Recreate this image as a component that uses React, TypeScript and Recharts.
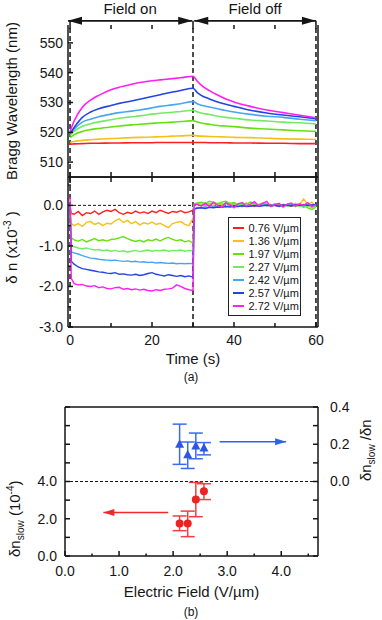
import React from 'react'
import {
  LineChart, Line, ScatterChart, Scatter, XAxis, YAxis,
  ReferenceLine, Legend, ErrorBar,
} from 'recharts'

const INK = '#151515'

const fieldLabels = ['0.76 V/µm', '1.36 V/µm', '1.97 V/µm', '2.27 V/µm', '2.42 V/µm', '2.57 V/µm', '2.72 V/µm']
const fieldColors = ['#ff1f1f', '#f2c218', '#66e00f', '#72ea62', '#46a6f5', '#2443e4', '#ff1ff0']

// (a) top: Bragg wavelength (nm) vs time (s)
const braggTime = [0, 1, 3, 5, 7, 10, 12, 15, 17, 20, 22, 25, 27, 30, 31, 32, 34, 36, 38, 40, 44, 48, 52, 56, 60]
const bragg076 = [516.0, 516.1, 516.2, 516.3, 516.3, 516.4, 516.4, 516.5, 516.5, 516.5, 516.6, 516.6, 516.6, 516.6, 516.6, 516.6, 516.5, 516.5, 516.5, 516.4, 516.4, 516.3, 516.3, 516.2, 516.2]
const bragg136 = [516.6, 516.9, 517.3, 517.5, 517.7, 517.9, 518.0, 518.2, 518.3, 518.4, 518.5, 518.7, 518.8, 519.0, 518.8, 518.7, 518.6, 518.5, 518.4, 518.3, 518.2, 518.0, 517.8, 517.7, 517.6]
const bragg197 = [518.2, 519.2, 520.3, 520.9, 521.3, 521.8, 522.1, 522.5, 522.7, 523.0, 523.2, 523.4, 523.6, 523.9, 523.5, 523.1, 522.7, 522.3, 522.1, 521.9, 521.4, 521.1, 520.8, 520.5, 520.3]
const bragg227 = [518.9, 520.3, 522.0, 522.9, 523.5, 524.2, 524.7, 525.2, 525.5, 526.1, 526.4, 526.7, 527.0, 527.4, 526.9, 526.5, 526.0, 525.4, 525.0, 524.7, 524.1, 523.8, 523.4, 523.2, 522.8]
const bragg242 = [519.4, 521.0, 523.4, 524.4, 525.2, 526.1, 526.6, 527.1, 527.5, 528.2, 528.7, 529.2, 529.6, 530.3, 529.6, 529.1, 528.5, 527.9, 527.3, 526.8, 526.0, 525.4, 525.0, 524.4, 523.9]
const bragg257 = [519.6, 521.6, 525.0, 526.8, 527.9, 529.0, 529.7, 530.5, 531.1, 532.0, 532.6, 533.5, 534.0, 534.8, 533.4, 532.4, 531.2, 530.2, 529.4, 528.7, 527.4, 526.5, 525.8, 525.2, 524.6]
const bragg272 = [520.3, 523.8, 528.4, 530.8, 532.4, 534.3, 535.1, 536.1, 536.7, 537.3, 537.6, 538.0, 538.3, 538.8, 537.2, 535.8, 534.0, 532.5, 531.2, 530.2, 528.7, 527.5, 526.6, 525.7, 524.9]
const braggSeries = [bragg076, bragg136, bragg197, bragg227, bragg242, bragg257, bragg272]
const braggTicks = [510, 520, 530, 540, 550]

// (a) bottom: delta n (x10^-3) vs time (s)
const dnTime = [0, 0.3, 1, 2, 3, 4, 5, 6, 7, 8, 9, 10, 11, 12, 13, 14, 15, 16, 17, 18, 19, 20, 21, 22, 23, 24, 25, 26, 27, 28, 29, 30, 30.3, 31, 32, 33, 34, 35, 36, 37, 38, 39, 40, 41, 42, 43, 44, 45, 46, 47, 48, 49, 50, 51, 52, 53, 54, 55, 56, 57, 58, 59, 60]
const dn076 = [
  0, -0.2,
  -0.22, -0.15, -0.25, -0.18, -0.2, -0.14, -0.22, -0.16, -0.12, -0.15,
  -0.1, -0.18, -0.22, -0.17, -0.2, -0.14, -0.19, -0.16, -0.2, -0.14,
  -0.18, -0.12, -0.16, -0.2, -0.15, -0.17, -0.13, -0.18, -0.16, -0.12,
  0.02,
  0.03, 0, 0.05, 0.02, -0.02, 0.04, 0.01, 0.06, 0, 0.03,
  -0.02, 0.02, 0.05, 0, -0.03, 0.02, 0.04, -0.01, 0.02, 0,
  -0.03, 0.02, 0.01, -0.02, 0.03, 0, -0.04, 0.02, 0, -0.02,
]
const dn136 = [
  0, -0.45,
  -0.5, -0.45, -0.52, -0.42, -0.4, -0.47, -0.43, -0.5, -0.44, -0.46,
  -0.38, -0.33, -0.42, -0.37, -0.45, -0.4, -0.48, -0.43, -0.46, -0.41,
  -0.47, -0.44, -0.5, -0.55, -0.45, -0.42, -0.4, -0.47, -0.5, -0.32,
  0,
  0.04, 0.02, -0.02, 0.03, 0, 0.05, 0.02, -0.03, 0.02, 0.06,
  0, -0.04, 0.03, 0, 0.04, -0.02, 0.02, 0.05, -0.01, 0.02,
  0, -0.04, 0.03, 0, 0.05, 0.02, 0.16, 0.02, 0.08, -0.03,
]
const dn197 = [
  0, -0.8,
  -0.85, -0.88, -0.84, -0.9, -0.86, -0.82, -0.87, -0.85, -0.88, -0.84,
  -0.83, -0.8, -0.77, -0.82, -0.86, -0.89, -0.86, -0.9, -0.85, -0.87,
  -0.83, -0.88, -0.82, -0.79, -0.84, -0.87, -0.85, -0.9, -0.87, -0.93,
  0.04,
  0.06, 0.08, 0.05, 0.1, 0.07, 0.04, 0.08, 0.1, 0.05, 0.07,
  0.02, 0.06, 0.03, 0.08, 0.04, 0.02, 0.06, 0.03, 0, 0.04,
  0.02, -0.02, 0.03, 0.01, -0.03, 0.02, 0, -0.06, -0.1, -0.04,
]
const dn227 = [
  0, -1.0,
  -1.02, -1.05, -1.07, -1.05, -1.08, -1.1, -1.09, -1.12, -1.1, -1.13,
  -1.11, -1.14, -1.12, -1.15, -1.13, -1.11, -1.14, -1.12, -1.1, -1.13,
  -1.11, -1.12, -1.1, -1.13, -1.11, -1.12, -1.1, -1.13, -1.11, -1.12,
  0.02,
  0.05, 0.03, 0.07, 0.04, 0.06, 0.02, 0.05, 0.03, 0.06, 0.02,
  0.04, 0.01, 0.03, 0, 0.02, -0.01, 0.02, 0, -0.02, 0.01,
  -0.03, 0, -0.02, 0.01, -0.03, -0.01, -0.04, -0.02, -0.05, -0.02,
]
const dn242 = [
  0, -1.15,
  -1.17, -1.2, -1.24, -1.27, -1.3, -1.31, -1.33, -1.34, -1.35, -1.36,
  -1.35, -1.37, -1.38, -1.37, -1.39, -1.38, -1.4, -1.39, -1.41, -1.4,
  -1.42, -1.41, -1.42, -1.43, -1.42, -1.44, -1.43, -1.44, -1.43, -1.44,
  -0.08,
  -0.05, -0.06, -0.04, -0.05, -0.03, -0.04, -0.02, -0.03, -0.01, -0.03,
  -0.02, 0, -0.02, -0.01, 0, -0.02, 0.01, -0.01, 0, 0.02,
  -0.01, 0.01, 0, 0.02, 0, 0.01, -0.01, 0.02, 0, 0.01,
]
const dn257 = [
  0, -1.38,
  -1.45, -1.52, -1.56, -1.58, -1.6, -1.62, -1.64, -1.65, -1.67, -1.68,
  -1.66, -1.7, -1.69, -1.71, -1.72, -1.7, -1.73, -1.71, -1.68, -1.66,
  -1.7, -1.72, -1.74, -1.71, -1.73, -1.75, -1.73, -1.76, -1.74, -1.77,
  -0.1,
  -0.07, -0.06, -0.08, -0.05, -0.06, -0.04, -0.05, -0.03, -0.04, -0.02,
  -0.03, -0.01, -0.03, -0.02, 0, -0.02, -0.01, 0.01, -0.01, 0,
  -0.02, 0.01, 0, -0.01, 0.01, 0, 0.02, 0, 0.01, 0.02,
]
const dn272 = [
  0.2, -1.8,
  -1.93, -1.96, -1.95, -1.99, -2.0, -1.98, -2.03, -2.01, -2.05, -2.06,
  -2.03, -2.02, -2.07, -2.05, -2.08, -2.06, -2.09, -2.07, -2.1, -2.11,
  -2.08, -2.1, -2.07, -2.06, -2.04, -1.96, -2.0, -2.05, -2.08, -2.1,
  0.02,
  0.03, -0.02, 0.05, -0.03, 0.08, 0, -0.05, 0.06, 0.02, -0.06,
  0.04, 0.07, -0.02, 0.03, 0.09, -0.01, 0.05, 0.1, -0.03, 0.02,
  0.05, -0.04, 0.03, 0.06, -0.02, 0.04, 0, 0.07, -0.03, 0.02,
]
const dnSeries = [dn076, dn136, dn197, dn227, dn242, dn257, dn272]
const dnTicks = [-3, -2.5, -2, -1.5, -1, -0.5, 0, 0.5]
const timeTicks = [0, 10, 20, 30, 40, 50, 60]

// (b): slow component vs electric field
const fieldB = [2.12, 2.27, 2.42, 2.57]
const dnSlow = [1.74, 1.74, 3.03, 3.47]
const dnSlowErr = [[0.38, 0.41], [0.7, 0.67], [0.92, 0.92], [0.44, 0.41]]
const slowRatio = [0.2, 0.143, 0.191, 0.18]
const slowRatioErr = [[0.108, 0.108], [0.073, 0.069], [0.069, 0.069], [0.037, 0.029]]
const efTicks = [0, 0.5, 1, 1.5, 2, 2.5, 3, 3.5, 4, 4.5]
const slowTicks = [0, 1, 2, 3, 4, 5, 6, 7, 8]
const ratioTicks = [-0.4, -0.3, -0.2, -0.1, 0, 0.1, 0.2, 0.3, 0.4]

const toRows = (time: number[], series: number[][]) =>
  time.map((t, i) => {
    const row: Record<string, number> = { t }
    series.forEach((s, k) => { row['s' + k] = s[i] })
    return row
  })
const braggRows = toRows(braggTime, braggSeries)
const dnRows = toRows(dnTime, dnSeries)
const slowRows = fieldB.map((x, i) => ({ x, y: dnSlow[i], err: dnSlowErr[i] }))
const ratioRows = fieldB.map((x, i) => ({ x, y: slowRatio[i], err: slowRatioErr[i] }))

const axisLine = { stroke: INK, strokeWidth: 1.5 }
const near = (a: number, b: number) => Math.abs(a - b) < 1e-6

// inward ticks, text outside
function tickFn(side: 'left' | 'right' | 'top' | 'bottom', gap: number, labelled: number[],
  fmt: ((v: number) => string) | null, len = 5, minor = 3) {
  return (p: any) => {
    const v = Number(p.payload.value)
    const major = labelled.some((m) => near(m, v))
    const L = major ? len : minor
    let ax = p.x, ay = p.y, lx = p.x, ly = p.y
    let anchor: any = 'middle', dy = '0.35em'
    if (side === 'left') { ax = p.x + gap; lx = ax + L; anchor = 'end' }
    if (side === 'right') { ax = p.x - gap; lx = ax - L; anchor = 'start' }
    if (side === 'bottom') { ay = p.y - gap; ly = ay - L; dy = '0.71em' }
    if (side === 'top') { ay = p.y + gap; ly = ay + L }
    return (
      <g>
        <line x1={ax} y1={ay} x2={lx} y2={ly} stroke={INK} strokeWidth={1.5} />
        {fmt && major && (
          <text x={p.x} y={p.y} dy={dy} textAnchor={anchor} fontSize={14} fill={INK}>{fmt(v)}</text>
        )}
      </g>
    )
  }
}

function arrowShape(color: string, both: boolean, headLen: number, headHalf: number, width: number, text?: string) {
  return (p: any) => {
    const { x1, y1, x2, y2 } = p
    const dir = x2 > x1 ? 1 : -1
    const head = (x: number, y: number, d: number) => (
      <polygon points={`${x},${y} ${x - d * headLen},${y - headHalf} ${x - d * headLen},${y + headHalf}`} fill={color} />
    )
    return (
      <g>
        <line x1={x1} y1={y1} x2={x2} y2={y2} stroke={color} strokeWidth={width} />
        {head(x2, y2, dir)}
        {both && head(x1, y1, -dir)}
        {text && <text x={(x1 + x2) / 2} y={y1 - 7} textAnchor="middle" fontSize={15} fill={INK}>{text}</text>}
      </g>
    )
  }
}

const vText = (x: number, y: number, body: React.ReactNode, size = 15) => (
  <text x={x} y={y} transform={`rotate(-90 ${x} ${y})`} textAnchor="middle" fontSize={size} fill={INK}>{body}</text>
)

function BraggPanel() {
  return (
    <LineChart width={382} height={179} data={braggRows} margin={{ top: 24, right: 0, bottom: 0, left: 0 }}>
      <XAxis xAxisId="top" orientation="top" type="number" dataKey="t" domain={[-0.5, 60.5]} ticks={timeTicks}
        interval={0} height={1} axisLine={false} tickLine={false} tickSize={0} tickMargin={0}
        tick={tickFn('top', 0, [], null, 4, 4)} />
      <XAxis xAxisId="b" type="number" dataKey="t" domain={[-0.5, 60.5]} ticks={timeTicks}
        interval={0} height={2} axisLine={axisLine} tickLine={false} tickSize={0} tickMargin={0}
        tick={tickFn('bottom', 0, [], null, 5, 5)} />
      <YAxis yAxisId="l" type="number" domain={[505, 556]} ticks={braggTicks} interval={0} width={68}
        axisLine={axisLine} tickLine={false} tickSize={0} tickMargin={5}
        tick={tickFn('left', 5, braggTicks, (v) => String(v), 5, 5)}
        label={{ content: (p: any) => vText(p.viewBox.x + 17, p.viewBox.y + p.viewBox.height / 2, 'Bragg Wavelength (nm)') }} />
      <YAxis yAxisId="r" orientation="right" type="number" domain={[505, 556]} ticks={braggTicks} interval={0}
        width={64} axisLine={axisLine} tickLine={false} tickSize={0} tickMargin={0}
        tick={tickFn('right', 0, [], null, 5, 5)} />
      {[0, 30, 60].map((x) => (
        <ReferenceLine key={x} xAxisId="b" yAxisId="l" ifOverflow="visible"
          segment={[{ x, y: 505 }, { x, y: 557.4 }]} stroke={INK} strokeWidth={1.5} strokeDasharray="5 3" />
      ))}
      <ReferenceLine xAxisId="b" yAxisId="l" ifOverflow="visible"
        segment={[{ x: -0.5, y: 557.4 }, { x: 29.8, y: 557.4 }]}
        shape={arrowShape(INK, true, 14, 4, 1.8, 'Field on')} />
      <ReferenceLine xAxisId="b" yAxisId="l" ifOverflow="visible"
        segment={[{ x: 30.3, y: 557.4 }, { x: 60, y: 557.4 }]}
        shape={arrowShape(INK, true, 14, 4, 1.8, 'Field off')} />
      {braggSeries.map((_, k) => (
        <Line key={k} xAxisId="b" yAxisId="l" type="monotone" dataKey={'s' + k} stroke={fieldColors[k]}
          strokeWidth={1.6} dot={false} isAnimationActive={false} />
      ))}
    </LineChart>
  )
}

function LegendBox() {
  return (
    <div style={{ border: '1.5px solid #222', background: '#fff', padding: '4px 0 2px 4px', fontSize: 11, lineHeight: '13px', color: INK }}>
      {fieldLabels.map((f, i) => (
        <div key={f} style={{ display: 'flex', alignItems: 'center' }}>
          <span style={{ display: 'inline-block', width: 11, height: 2, background: fieldColors[i], marginRight: 5 }} />
          {f}
        </div>
      ))}
    </div>
  )
}

function DeltaNPanel() {
  return (
    <LineChart width={382} height={200} data={dnRows} margin={{ top: 0, right: 0, bottom: 0, left: 0 }}>
      <XAxis xAxisId="top" orientation="top" type="number" dataKey="t" domain={[-0.5, 60.5]} ticks={timeTicks}
        interval={0} height={2} axisLine={axisLine} tickLine={false} tickSize={0} tickMargin={0}
        tick={tickFn('top', 0, [], null, 5, 5)} />
      <XAxis xAxisId="b" type="number" dataKey="t" domain={[-0.5, 60.5]} ticks={timeTicks}
        interval={0} height={48} axisLine={axisLine} tickLine={false} tickSize={0} tickMargin={8}
        tick={tickFn('bottom', 8, [0, 20, 40, 60], (v) => String(v), 5, 4)}
        label={{ value: 'Time (s)', position: 'insideBottom', offset: 11, fontSize: 15, fill: INK }} />
      <YAxis yAxisId="l" type="number" domain={[-3, 0.7]} ticks={dnTicks} interval={0} width={68}
        axisLine={axisLine} tickLine={false} tickSize={0} tickMargin={5}
        tick={tickFn('left', 5, [-3, -2, -1, 0], (v) => v.toFixed(1), 5, 3)}
        label={{
          content: (p: any) => vText(p.viewBox.x + 17, p.viewBox.y + p.viewBox.height * 0.47, (
            <>δ n (x10<tspan dy={-6} fontSize={10}>-3</tspan><tspan dy={6}> )</tspan></>
          )),
        }} />
      <YAxis yAxisId="r" orientation="right" type="number" domain={[-3, 0.7]} ticks={dnTicks} interval={0}
        width={64} axisLine={axisLine} tickLine={false} tickSize={0} tickMargin={0}
        tick={tickFn('right', 0, [-3, -2, -1, 0], null, 5, 3)} />
      <ReferenceLine xAxisId="b" yAxisId="l" y={0} stroke={INK} strokeWidth={1} strokeDasharray="3 2" />
      {[0, 30, 60].map((x) => (
        <ReferenceLine key={x} xAxisId="b" yAxisId="l" x={x} stroke={INK} strokeWidth={1.5} strokeDasharray="5 3" />
      ))}
      {dnSeries.map((_, k) => (
        <Line key={k} xAxisId="b" yAxisId="l" type="linear" dataKey={'s' + k} stroke={fieldColors[k]}
          strokeWidth={1.4} dot={false} isAnimationActive={false} />
      ))}
      <Legend content={() => <LegendBox />} layout="vertical" align="center" verticalAlign="middle"
        wrapperStyle={{ left: 227.5, top: 41.5, width: 73, height: 'auto' }} />
    </LineChart>
  )
}

const circle = (p: any) => <circle cx={p.cx} cy={p.cy} r={4} fill="#ee2222" />
const triangle = (p: any) => (
  <polygon points={`${p.cx},${p.cy - 5} ${p.cx - 4.5},${p.cy + 3.5} ${p.cx + 4.5},${p.cy + 3.5}`} fill="#2c55e8" />
)

function SlowPanel() {
  return (
    <ScatterChart width={382} height={225} margin={{ top: 11, right: 0, bottom: 0, left: 0 }}>
      <XAxis xAxisId="top" orientation="top" type="number" domain={[0, 4.68]} height={1}
        tick={false} tickLine={false} axisLine={axisLine} />
      <XAxis xAxisId="b" type="number" dataKey="x" domain={[0, 4.68]} ticks={efTicks} interval={0} height={64}
        axisLine={axisLine} tickLine={false} tickSize={0} tickMargin={10}
        tick={tickFn('bottom', 10, [0, 1, 2, 3, 4], (v) => v.toFixed(1), 5, 2.5)}
        label={{ value: 'Electric Field (V/µm)', position: 'insideBottom', offset: 23, fontSize: 15, fill: INK }} />
      <YAxis yAxisId="l" type="number" dataKey="y" domain={[0, 8]} ticks={slowTicks} interval={0} width={65}
        axisLine={axisLine} tickLine={false} tickSize={0} tickMargin={8}
        tick={tickFn('left', 8, [0, 2, 4], (v) => v.toFixed(1), 5, 5)}
        label={{
          content: (p: any) => vText(p.viewBox.x + 20, p.viewBox.y + p.viewBox.height * 0.75, (
            <>δn<tspan dy={4} fontSize={10}>slow</tspan><tspan dy={-4}> (10</tspan><tspan dy={-6} fontSize={10}>-4</tspan><tspan dy={6}>)</tspan></>
          )),
        }} />
      <YAxis yAxisId="r" orientation="right" type="number" dataKey="y" domain={[-0.4, 0.4]} ticks={ratioTicks}
        interval={0} width={64} axisLine={axisLine} tickLine={false} tickSize={0} tickMargin={12}
        tick={tickFn('right', 12, [0, 0.2, 0.4], (v) => v.toFixed(1), 5, 5)}
        label={{
          content: (p: any) => vText(p.viewBox.x + 53, p.viewBox.y + p.viewBox.height * 0.29, (
            <>δn<tspan dy={4} fontSize={10}>slow</tspan><tspan dy={-4}> /δn</tspan></>
          )),
        }} />
      <ReferenceLine xAxisId="b" yAxisId="l" y={4} stroke={INK} strokeWidth={1} strokeDasharray="3 2" />
      <ReferenceLine xAxisId="b" yAxisId="r" segment={[{ x: 2.86, y: 0.214 }, { x: 4.09, y: 0.214 }]}
        shape={arrowShape('#2c63ee', false, 11, 3.5, 1.5)} />
      <ReferenceLine xAxisId="b" yAxisId="l" segment={[{ x: 1.91, y: 2.33 }, { x: 0.71, y: 2.33 }]}
        shape={arrowShape('#ee2a2a', false, 11, 3.5, 1.5)} />
      <Scatter data={ratioRows} xAxisId="b" yAxisId="r" fill="#2c55e8" shape={triangle} isAnimationActive={false}>
        <ErrorBar dataKey="err" direction="y" width={7} stroke="#3b6af0" strokeWidth={1.5} />
      </Scatter>
      <Scatter data={slowRows} xAxisId="b" yAxisId="l" fill="#ee2222" shape={circle} isAnimationActive={false}>
        <ErrorBar dataKey="err" direction="y" width={7} stroke="#f04040" strokeWidth={1.5} />
      </Scatter>
    </ScatterChart>
  )
}

export default function App() {
  return (
    <div style={{
      position: 'absolute', left: 0, top: 0, width: 382, height: 620, background: '#fff',
      fontFamily: '"Liberation Sans", Arial, sans-serif', color: INK,
    }}>
      <div style={{ position: 'absolute', left: 0, top: 0 }}><BraggPanel /></div>
      <div style={{ position: 'absolute', left: 0, top: 175 }}><DeltaNPanel /></div>
      <div style={{ position: 'absolute', left: 0, top: 370, width: 382, textAlign: 'center', fontSize: 12, lineHeight: '14px' }}>(a)</div>
      <div style={{ position: 'absolute', left: 0, top: 395 }}><SlowPanel /></div>
      <div style={{ position: 'absolute', left: 0, top: 605, width: 382, textAlign: 'center', fontSize: 12, lineHeight: '14px' }}>(b)</div>
    </div>
  )
}
